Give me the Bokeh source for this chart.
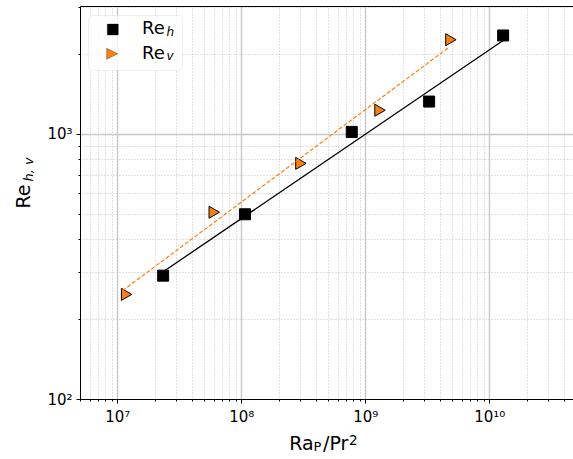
import math
from bokeh.plotting import figure
from bokeh.layouts import row, column
from bokeh.models import Range1d, FixedTicker, Label, BoxAnnotation, PolyAnnotation, LogAxis
from bokeh.embed import file_html
from bokeh.resources import INLINE

# ---- data ----
ra_h = [2.32e7, 1.06e8, 7.7e8, 3.24e9, 1.28e10]
re_h = [293, 499, 1020, 1327, 2355]
ra_v = [1.14e7, 5.8e7, 2.9e8, 1.26e9, 4.7e9]
re_v = [249, 508, 776, 1231, 2270]
fit_h_ra = [2.32e7, 1.28e10]
fit_h_re = [303, 2254]
fit_v_ra = [1.09e7, 4.7e9]
fit_v_re = [257, 2128]
x_major = [1e7, 1e8, 1e9, 1e10]
x_tick_labels = ["10⁷", "10⁸", "10⁹", "10¹⁰"]
y_major = [1e2, 1e3]
y_tick_labels = ["10²", "10³"]

FONT = "DejaVu Sans"
TOTAL_W, TOTAL_H = 573, 459
YLAB_W = 40
MAIN_H = 428
W = TOTAL_W - YLAB_W
FL, FT, FB = 40, 6, 28
frame_w = W - FL
frame_h = MAIN_H - FT - FB
x0 = 5e6
x1 = x0 * 10 ** (frame_w / 124)
y0 = 100
y1 = y0 * 10 ** (frame_h / 266)

p = figure(width=W, height=MAIN_H, x_axis_type="log", y_axis_type="log",
           x_range=Range1d(x0, x1), y_range=Range1d(y0, y1),
           output_backend="svg", toolbar_location=None,
           min_border_left=FL, min_border_right=0, min_border_top=FT,
           min_border_bottom=FB)
p.background_fill_color = "white"
p.border_fill_color = "white"
p.outline_line_color = None

xminor = [m * 10 ** e for e in range(6, 11) for m in range(2, 10)
          if x0 <= m * 10 ** e <= x1 and m * 10 ** e not in x_major]
yminor = [m * 10 ** e for e in range(2, 4) for m in range(2, 10)
          if y0 <= m * 10 ** e <= y1]
p.xaxis.ticker = FixedTicker(ticks=x_major, minor_ticks=xminor)
p.yaxis.ticker = FixedTicker(ticks=y_major, minor_ticks=yminor)
p.xaxis.major_label_overrides = dict(zip(x_major, x_tick_labels))
p.yaxis.major_label_overrides = dict(zip(y_major, y_tick_labels))

for ax in (p.xaxis[0], p.yaxis[0]):
    ax.major_tick_out = 4
    ax.major_tick_in = 0
    ax.minor_tick_out = 2
    ax.minor_tick_in = 0
    ax.axis_line_color = "black"
    ax.major_tick_line_color = "black"
    ax.minor_tick_line_color = "black"
    ax.major_label_text_font = FONT
    ax.major_label_text_font_size = "15px"
    ax.major_label_text_color = "black"
    ax.major_label_standoff = 4

# top spine
top_ax = LogAxis(ticker=FixedTicker(ticks=[]), major_label_text_font_size="0px",
                 major_tick_out=0, major_tick_in=0, minor_tick_out=0, minor_tick_in=0,
                 major_label_standoff=0, axis_line_color="black")
p.add_layout(top_ax, "above")

for g in (p.xgrid[0], p.ygrid[0]):
    g.grid_line_color = "#c8c8c8"
    g.grid_line_width = 1.4
    g.minor_grid_line_color = "#b4b4b4"
    g.minor_grid_line_width = 0.8
    g.minor_grid_line_dash = "1 2"

p.scatter(ra_h, re_h, marker="square", size=11, fill_color="black", line_color="black")
p.scatter(ra_v, re_v, marker="triangle", size=12, angle=-math.pi / 2,
          fill_color="#ff7f0e", line_color="black", line_width=1)
p.line(fit_h_ra, fit_h_re, line_color="black", line_width=1.3)
p.line(fit_v_ra, fit_v_re, line_color="#ff7f0e", line_width=1.2, line_dash="4 2")

SHIFT = 0.37  # em: offset between Bokeh's anchor and the drawn baseline


def px(size):
    return float(size.replace("px", ""))


def lab(fig, text, x, y, size, angle=0.0, style="normal"):
    # x, y: wanted baseline start, screen units (y up); corrected for baseline offset
    d = SHIFT * px(size)
    if angle:
        x -= d
    else:
        y += d
    fig.add_layout(Label(x=x, y=y, x_units="screen", y_units="screen", text=text,
                         text_font=FONT, text_font_size=size, text_font_style=style,
                         text_color="black", angle=angle,
                         text_align="left", text_baseline="alphabetic"))


# ---- legend (screen units relative to the frame) ----
def sbox(**kw):
    return dict(left_units="screen", right_units="screen",
                top_units="screen", bottom_units="screen", **kw)

p.add_layout(BoxAnnotation(**sbox(left=8, right=102, top=384, bottom=329,
                                  fill_color="white", fill_alpha=0.8,
                                  line_color="#cccccc", line_width=1, border_radius=4)))
p.add_layout(BoxAnnotation(**sbox(left=26.8, right=37.8, top=375.5, bottom=364.5,
                                  fill_color="black", fill_alpha=1, line_color="black")))
p.add_layout(PolyAnnotation(xs=[26.2, 26.2, 37.2], ys=[351.2, 340.2, 345.7],
                            xs_units="screen", ys_units="screen",
                            fill_color="#ff7f0e", fill_alpha=1,
                            line_color="black", line_width=1))
lab(p, "Re", 61.5, 365, "18px")
lab(p, "h", 86, 363.3, "12px", style="italic")
lab(p, "Re", 61.5, 340, "18px")
lab(p, "v", 86, 339.3, "12px", style="italic")


def blank(w, h):
    f = figure(width=w, height=h, x_range=Range1d(0, 1), y_range=Range1d(0, 1),
               output_backend="svg", toolbar_location=None, min_border=0,
               x_axis_location=None, y_axis_location=None)
    f.outline_line_color = None
    f.grid.visible = False
    f.background_fill_color = "white"
    f.border_fill_color = "white"
    return f

# y axis label
ylab = blank(YLAB_W, MAIN_H)
lab(ylab, "Re", 29.6, MAIN_H - 237, "19px", angle=math.pi / 2)
lab(ylab, "h, v", 33.0, MAIN_H - 210, "13px", angle=math.pi / 2, style="italic")

# x axis label
XLAB_H = TOTAL_H - MAIN_H
xlab = blank(TOTAL_W, XLAB_H)
lab(xlab, "Ra", 288.7, TOTAL_H - 449.3, "19px")
lab(xlab, "P", 313.0, TOTAL_H - 451.0, "13px")
lab(xlab, "/Pr", 322.5, TOTAL_H - 449.3, "19px")
lab(xlab, "2", 348.6, TOTAL_H - 444.0, "13.5px")

layout = column(row(ylab, p, spacing=0), xlab, spacing=0)
open("out.html", "w").write(file_html(layout, INLINE))
